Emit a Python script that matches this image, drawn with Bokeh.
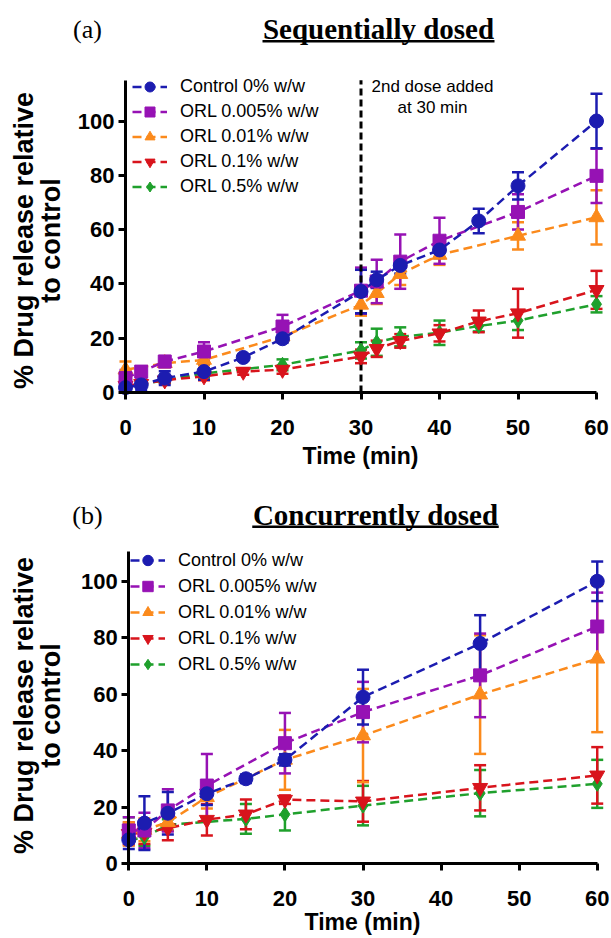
import numpy as np
from bokeh.plotting import figure
from bokeh.models import (Range1d, LinearAxis, FixedTicker, Legend, LegendItem,
                          Label, BoxAnnotation, Whisker, TeeHead, ColumnDataSource)
from bokeh.layouts import column
from bokeh.embed import file_html
from bokeh.resources import INLINE

# ---------------- data ----------------
series_labels = ["Control 0% w/w", "ORL 0.005% w/w", "ORL 0.01% w/w", "ORL 0.1% w/w", "ORL 0.5% w/w"]
series_colors = ["#1c1cb0", "#9612b4", "#fb8a1c", "#d8141c", "#1fa02c"]
series_markers = ["circle", "square", "triangle", "inverted_triangle", "diamond"]
series_sizes = [14, 13, 15, 15, 15]
x_ticks = [0, 10, 20, 30, 40, 50, 60]
y_ticks = [0, 20, 40, 60, 80, 100]
dose_time = [30]
dose_text = ["2nd dose added", "at 30 min"]

# (a) sequentially dosed
a_ctrl_t = [0, 2, 5, 10, 15, 20, 30, 32, 35, 40, 45, 50, 60]
a_ctrl_v = [1.8, 2.8, 5.3, 7.7, 12.9, 19.8, 37.2, 41.5, 46.8, 52.5, 63.2, 76.1, 100.0]
a_ctrl_e = [1.0, 2.0, 2.5, 3.0, 1.0, 1.5, 8.0, 3.0, 3.0, 3.0, 4.5, 5.0, 10.0]

a_o005_t = [0, 2, 5, 10, 20, 30, 32, 35, 40, 50, 60]
a_o005_v = [5.3, 7.7, 11.4, 15.1, 24.3, 37.5, 40.9, 48.2, 55.9, 66.5, 79.8]
a_o005_e = [3.0, 2.0, 2.0, 3.4, 4.3, 8.5, 8.0, 10.0, 8.5, 6.5, 10.0]

a_o001_t = [0, 5, 10, 20, 30, 32, 35, 40, 50, 60]
a_o001_v = [8.4, 10.8, 12.0, 20.6, 32.3, 36.6, 43.6, 50.7, 57.7, 64.5]
a_o001_e = [3.0, 1.5, 2.0, 2.0, 4.0, 4.0, 4.0, 3.7, 5.0, 10.0]

a_o01_t = [0, 2, 5, 10, 15, 20, 30, 32, 35, 40, 45, 50, 60]
a_o01_v = [2.5, 3.2, 4.5, 6.0, 7.7, 8.4, 13.3, 16.1, 19.0, 21.8, 26.2, 29.2, 37.8]
a_o01_e = [1.0, 1.0, 1.0, 1.5, 1.2, 1.5, 2.5, 3.0, 2.5, 3.0, 4.0, 9.0, 7.0]

a_o05_t = [0, 2, 5, 10, 20, 30, 32, 35, 40, 45, 50, 60]
a_o05_v = [2.0, 3.0, 4.5, 7.0, 10.2, 15.5, 18.5, 20.5, 22.0, 24.5, 26.5, 32.5]
a_o05_e = [1.0, 1.0, 1.0, 1.5, 2.0, 3.0, 5.0, 3.5, 4.5, 2.0, 3.5, 3.0]

# (b) concurrently dosed
b_ctrl_t = [0, 2, 5, 10, 15, 20, 30, 45, 60]
b_ctrl_v = [8.5, 14.4, 17.9, 24.8, 30.1, 36.8, 59.0, 78.0, 100.0]
b_ctrl_e = [3.3, 9.5, 7.5, 4.0, 1.5, 2.0, 9.7, 10.0, 7.0]

b_o005_t = [0, 2, 5, 10, 20, 30, 45, 60]
b_o005_v = [11.8, 11.8, 18.9, 27.7, 42.7, 53.7, 66.7, 84.0]
b_o005_e = [4.7, 6.3, 7.5, 11.2, 10.7, 10.7, 14.8, 12.0]

b_o001_t = [0, 2, 5, 10, 20, 30, 45, 60]
b_o001_v = [10.6, 12.0, 14.7, 23.6, 36.8, 45.4, 59.9, 72.6]
b_o001_e = [4.0, 4.0, 3.0, 4.0, 10.6, 16.5, 21.0, 26.0]

b_o01_t = [0, 2, 5, 10, 15, 20, 30, 45, 60]
b_o01_v = [10.6, 11.0, 12.6, 15.6, 17.5, 22.7, 22.1, 26.9, 31.3]
b_o01_e = [4.0, 4.0, 4.3, 5.6, 5.3, 1.5, 7.2, 8.0, 10.0]

b_o05_t = [0, 2, 5, 15, 20, 30, 45, 60]
b_o05_v = [8.3, 9.4, 13.8, 15.9, 17.5, 20.6, 25.0, 28.3]
b_o05_e = [8.2, 3.0, 2.0, 5.3, 5.7, 7.0, 8.2, 8.5]

panel_a_series = [(a_ctrl_t, a_ctrl_v, a_ctrl_e), (a_o005_t, a_o005_v, a_o005_e),
                  (a_o001_t, a_o001_v, a_o001_e), (a_o01_t, a_o01_v, a_o01_e),
                  (a_o05_t, a_o05_v, a_o05_e)]
panel_b_series = [(b_ctrl_t, b_ctrl_v, b_ctrl_e), (b_o005_t, b_o005_v, b_o005_e),
                  (b_o001_t, b_o001_v, b_o001_e), (b_o01_t, b_o01_v, b_o01_e),
                  (b_o05_t, b_o05_v, b_o05_e)]

# ---------------- layout (pixel geometry, page coordinates) ----------------
FIG_W = 611
BASE_FIX = 8  # label baseline correction (px)
GEOM_A = dict(fig_h=470, off_y=0, x0px=125, sx=7.85, y0px=392, sy=2.715,
              y_axis_top=115, tag_xy=(87, 37), title_xy=(378, 36.5), ul=(39.5, 42),
              legend_row0=86, legend_glyph_left=132, legend_gh=25,
              ylab_center=240, xlab_xy=(360, 463), dose_xy=(432, 93.5))
GEOM_B = dict(fig_h=468, off_y=470, x0px=128.3, sx=7.807, y0px=863.3, sy=2.825,
              y_axis_top=110.5, tag_xy=(87, 523), title_xy=(375, 522), ul=(525, 527.5),
              legend_row0=560, legend_glyph_left=130, legend_gh=26,
              ylab_center=705, xlab_xy=(362, 929), dose_xy=None)


def make_panel(tag, title, series, g):
    FH = g["fig_h"]
    x_start = -g["x0px"] / g["sx"]
    x_end = x_start + FIG_W / g["sx"]
    y_end = (g["y0px"] - g["off_y"]) / g["sy"]
    y_start = y_end - FH / g["sy"]

    def rx(ref_x):
        return x_start + ref_x / g["sx"]

    def ry(ref_y):
        return y_end - (ref_y - g["off_y"]) / g["sy"]

    p = figure(width=FIG_W, height=FH, output_backend="svg", toolbar_location=None,
               x_range=Range1d(x_start, x_end), y_range=Range1d(y_start, y_end),
               x_axis_type=None, y_axis_type=None, title=None,
               min_border_left=0, min_border_right=0, min_border_top=0, min_border_bottom=0)
    p.outline_line_color = None
    p.background_fill_color = "white"
    p.border_fill_color = "white"

    xaxis = LinearAxis(fixed_location=0, bounds=(0, 60), ticker=FixedTicker(ticks=x_ticks))
    yaxis = LinearAxis(fixed_location=0, bounds=(0, g["y_axis_top"]), ticker=FixedTicker(ticks=y_ticks))
    for ax in (xaxis, yaxis):
        ax.axis_line_width = 3
        ax.axis_line_color = "black"
        ax.major_tick_line_width = 3
        ax.major_tick_line_color = "black"
        ax.major_tick_out = 7
        ax.major_tick_in = 0
        ax.minor_tick_line_color = None
        ax.major_label_text_font = "Liberation Sans"
        ax.major_label_text_font_style = "bold"
        ax.major_label_text_font_size = "22px"
        ax.major_label_text_color = "black"
    xaxis.major_label_standoff = 20
    yaxis.major_label_standoff = 4
    p.add_layout(xaxis, "below")
    p.add_layout(yaxis, "left")

    def hlabel(xr, yr, txt, font, size, style="normal"):
        p.add_layout(Label(x=rx(xr), y=ry(yr - BASE_FIX), text=txt, text_align="center",
                           text_baseline="alphabetic", text_font=font, text_font_style=style,
                           text_font_size=size, text_color="black"))

    if g["dose_xy"] is not None:
        p.segment(x0=dose_time, y0=[0], x1=dose_time, y1=[g["y_axis_top"]],
                  line_color="black", line_width=3, line_dash="7 4")
        dx, dy = g["dose_xy"]
        for i, txt in enumerate(dose_text):
            hlabel(dx, dy + 21.5 * i, txt, "Liberation Sans", "17px")

    items = [None] * 5
    for i in reversed(range(5)):
        t, v, e = series[i]
        c = series_colors[i]
        lo = [a - b for a, b in zip(v, e)]
        hi = [a + b for a, b in zip(v, e)]
        src = ColumnDataSource(dict(t=t, v=v, lo=lo, hi=hi))
        w = Whisker(source=src, base="t", lower="lo", upper="hi", dimension="height",
                    line_color=c, line_width=2.5,
                    upper_head=TeeHead(size=12, line_color=c, line_width=2.5),
                    lower_head=TeeHead(size=12, line_color=c, line_width=2.5))
        p.add_layout(w)
        lr = p.line("t", "v", source=src, line_color=c, line_width=2.5, line_dash="9 5")
        sr = p.scatter("t", "v", source=src, marker=series_markers[i], size=series_sizes[i],
                       fill_color=c, line_color=c)
        items[i] = LegendItem(label=series_labels[i], renderers=[lr, sr])

    gh = g["legend_gh"]
    box_top = g["legend_row0"] - g["off_y"] - gh / 2
    box_bottom = box_top + 5 * gh
    legend = Legend(items=items, location=(g["legend_glyph_left"], FH - box_bottom),
                    glyph_width=35, glyph_height=gh, label_height=gh, spacing=0, padding=0,
                    margin=0, label_standoff=13,
                    label_text_font="Liberation Sans", label_text_font_size="18px",
                    label_text_color="black", background_fill_alpha=0, border_line_alpha=0)
    p.add_layout(legend)

    # panel tag and underlined title
    hlabel(g["tag_xy"][0], g["tag_xy"][1], tag, "Liberation Serif", "26px")
    hlabel(g["title_xy"][0], g["title_xy"][1], title, "Liberation Serif", "29px", "bold")
    half = 0.5 * (8.0 if title.startswith("S") else 8.5) * 29
    p.add_layout(BoxAnnotation(left=rx(g["title_xy"][0] - half), right=rx(g["title_xy"][0] + half),
                               top=ry(g["ul"][0]), bottom=ry(g["ul"][1]),
                               fill_color="black", fill_alpha=1, line_color=None))

    # axis titles
    hlabel(g["xlab_xy"][0], g["xlab_xy"][1], "Time (min)", "Liberation Sans", "23px", "bold")
    for txt, bx in (("% Drug release relative", 31), ("to control", 58)):
        p.add_layout(Label(x=rx(bx - BASE_FIX), y=ry(g["ylab_center"]), text=txt, angle=np.pi / 2,
                           text_align="center", text_baseline="alphabetic", text_font="Liberation Sans",
                           text_font_style="bold", text_font_size="27px", text_color="black"))
    return p


pa = make_panel("(a)", "Sequentially dosed", panel_a_series, GEOM_A)
pb = make_panel("(b)", "Concurrently dosed", panel_b_series, GEOM_B)
layout = column(pa, pb, spacing=0)

open("out.html", "w").write(file_html(layout, INLINE))
